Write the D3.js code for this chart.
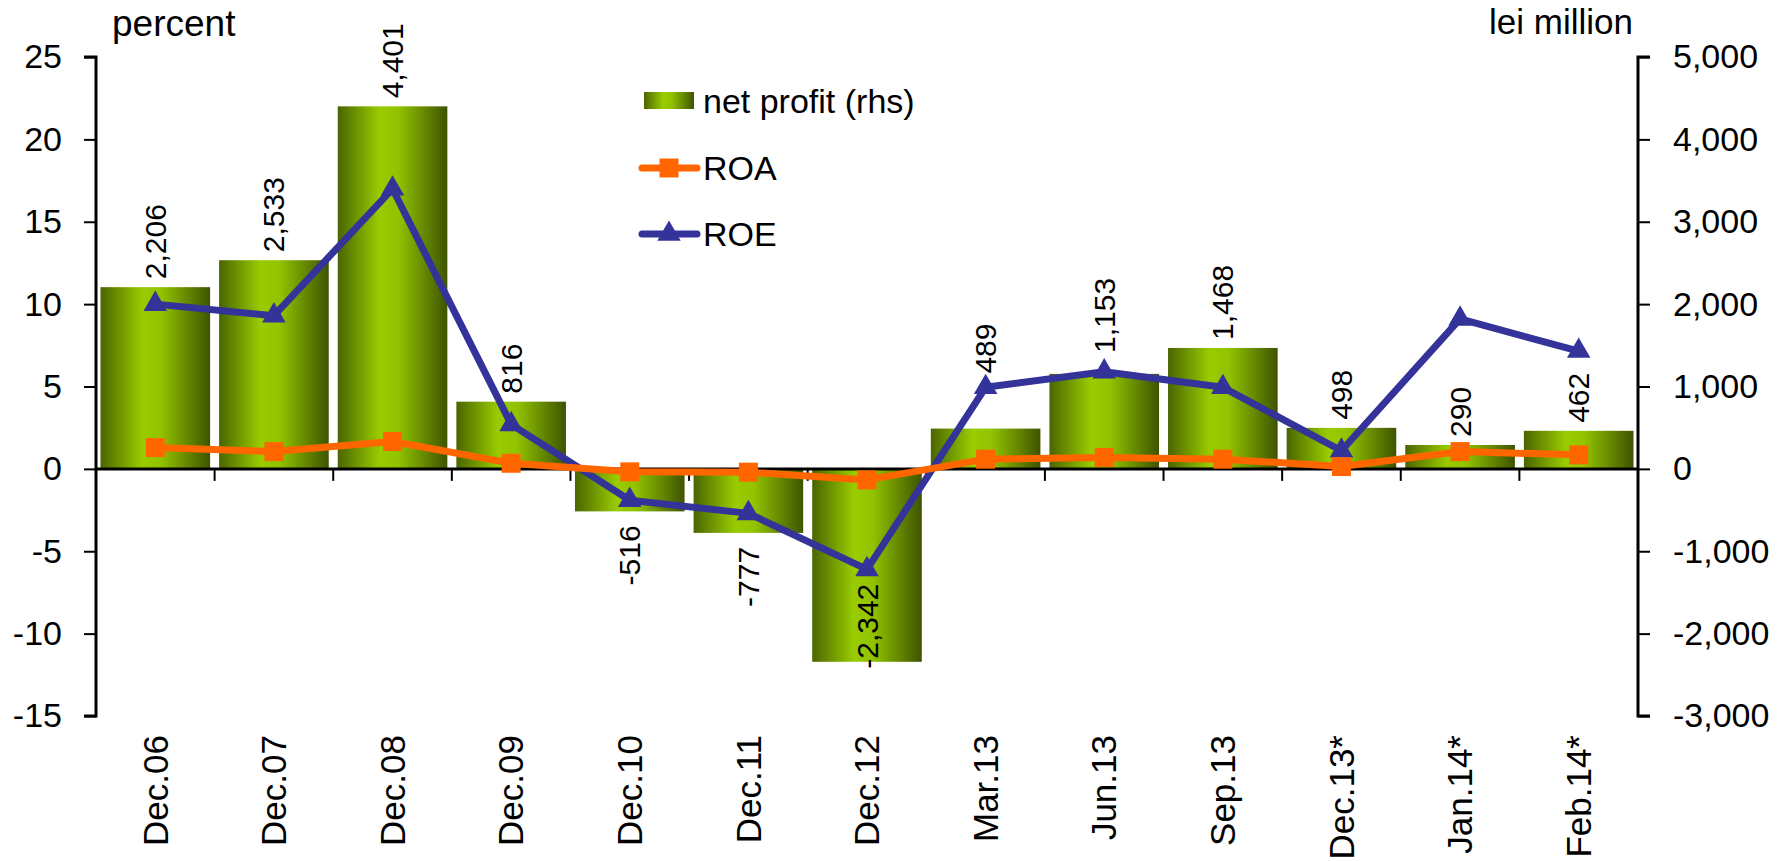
<!DOCTYPE html>
<html>
<head>
<meta charset="utf-8">
<script src="https://cdn.jsdelivr.net/npm/d3@7/dist/d3.min.js"></script>
<style>
  html, body { margin: 0; padding: 0; background: #fff; }
  svg { display: block; font-family: "Liberation Sans", Arial, sans-serif; }
</style>
</head>
<body>
<svg id="chart" width="1779" height="861"></svg>
<script>
// ---- data ----
const categories = ["Dec.06","Dec.07","Dec.08","Dec.09","Dec.10","Dec.11","Dec.12","Mar.13","Jun.13","Sep.13","Dec.13*","Jan.14*","Feb.14*"];
const netProfit = [2206, 2533, 4401, 816, -516, -777, -2342, 489, 1153, 1468, 498, 290, 462];
const roa = [1.29, 1.05, 1.66, 0.34, -0.18, -0.2, -0.67, 0.59, 0.69, 0.59, 0.14, 1.05, 0.85];
const roe = [10.0, 9.3, 17.0, 2.7, -1.9, -2.7, -6.1, 4.95, 5.9, 4.95, 1.1, 9.1, 7.15];
const leftTicks = [25, 20, 15, 10, 5, 0, -5, -10, -15];
const rightTicks = [5000, 4000, 3000, 2000, 1000, 0, -1000, -2000, -3000];
const seriesNames = ["net profit (rhs)", "ROA", "ROE"];
const leftTitle = "percent";
const rightTitle = "lei million";

// ---- layout (kept apart from the data) ----
const W = 1779, H = 861;
const plot = { left: 96, right: 1638, top: 57, bottom: 716 };
const labelLift = { "Mar.13": 47, "Jun.13": 13 };
const ROA_COLOR = "#ff6600", ROE_COLOR = "#333399";
const FS = 34, CAT_FS = 35, LABEL_FS = 30, LEG_FS = 34;

const svg = d3.select("#chart");
const hy = s => s.replace(/\u2212/g, "-");
const fmtComma = v => hy(d3.format(",")(v));
const fmtInt = v => hy(d3.format("d")(v));

const defs = svg.append("defs");
const grad = defs.append("linearGradient").attr("id", "barGrad")
  .attr("x1", 0).attr("x2", 1).attr("y1", 0).attr("y2", 0);
grad.append("stop").attr("offset", "0%").attr("stop-color", "#4a6500");
grad.append("stop").attr("offset", "38%").attr("stop-color", "#99cc00");
grad.append("stop").attr("offset", "55%").attr("stop-color", "#92c300");
grad.append("stop").attr("offset", "100%").attr("stop-color", "#3e5400");

const x = d3.scaleBand().domain(categories)
  .range([plot.left, plot.right]).paddingInner(0.076).paddingOuter(0.038);
const yL = d3.scaleLinear().domain([-15, 25]).range([plot.bottom, plot.top]);
const yR = d3.scaleLinear().domain([-3000, 5000]).range([plot.bottom, plot.top]);
const step = x.step();
const cx = c => x(c) + x.bandwidth() / 2;

// ---- bars ----
svg.append("g").selectAll("rect").data(categories).join("rect")
  .attr("x", c => x(c))
  .attr("width", x.bandwidth())
  .attr("y", (c, i) => yR(Math.max(0, netProfit[i])))
  .attr("height", (c, i) => Math.abs(yR(netProfit[i]) - yR(0)))
  .attr("fill", "url(#barGrad)");

// ---- zero line with category ticks (between categories) ----
const zeroY = yL(0);
const gx = svg.append("g");
gx.append("line").attr("x1", plot.left).attr("x2", plot.right)
  .attr("y1", zeroY).attr("y2", zeroY).attr("stroke", "#000").attr("stroke-width", 3);
gx.selectAll("line.tk").data(categories.slice(1)).join("line").attr("class", "tk")
  .attr("x1", c => x(c) - step * 0.076 / 2).attr("x2", c => x(c) - step * 0.076 / 2)
  .attr("y1", zeroY).attr("y2", zeroY + 12).attr("stroke", "#000").attr("stroke-width", 2);

// ---- category labels ----
svg.append("g").selectAll("text").data(categories).join("text")
  .attr("transform", c => `translate(${cx(c)},${plot.bottom + 19}) rotate(-90)`)
  .attr("text-anchor", "end").attr("dy", "0.35em")
  .attr("font-size", CAT_FS).text(c => c);

// ---- left axis ----
const axL = d3.axisLeft(yL).tickValues(leftTicks).tickSize(12).tickPadding(22).tickFormat(fmtInt);
const gL = svg.append("g").attr("transform", `translate(${plot.left},0)`).call(axL);
gL.select(".domain").attr("stroke-width", 3).attr("d", `M-12,${plot.top}H0V${plot.bottom}H-12`);
gL.selectAll(".tick line").attr("stroke-width", 2);
gL.selectAll(".tick text").attr("font-size", FS).attr("font-family", "Liberation Sans, Arial, sans-serif").attr("fill", "#000");

// ---- right axis ----
const axR = d3.axisRight(yR).tickValues(rightTicks).tickSize(12).tickPadding(23).tickFormat(fmtComma);
const gR = svg.append("g").attr("transform", `translate(${plot.right},0)`).call(axR);
gR.select(".domain").attr("stroke-width", 3).attr("d", `M12,${plot.top}H0V${plot.bottom}H12`);
gR.selectAll(".tick line").attr("stroke-width", 2);
gR.selectAll(".tick text").attr("font-size", FS).attr("font-family", "Liberation Sans, Arial, sans-serif").attr("fill", "#000");

// ---- axis titles ----
svg.append("text").attr("x", 112).attr("y", 36).attr("font-size", 37).text(leftTitle);
svg.append("text").attr("x", 1633).attr("y", 34).attr("text-anchor", "end").attr("font-size", 35).text(rightTitle);

// ---- data labels for net profit ----
svg.append("g").selectAll("text").data(categories).join("text")
  .attr("font-size", LABEL_FS)
  .each(function (c, i) {
    const v = netProfit[i];
    const sel = d3.select(this);
    const approxLen = fmtComma(v).length * LABEL_FS * 0.5;
    if (v >= 0) {
      const y0 = yR(v) - 8 - (labelLift[c] || 0);
      sel.attr("transform", `translate(${cx(c)},${y0}) rotate(-90)`).attr("text-anchor", "start");
    } else {
      const yb = yR(v);
      if (yb + 14 + approxLen > plot.bottom) {
        sel.attr("transform", `translate(${cx(c)},${yb + 7}) rotate(-90)`).attr("text-anchor", "start");
      } else {
        sel.attr("transform", `translate(${cx(c)},${yb + 14}) rotate(-90)`).attr("text-anchor", "end");
      }
    }
    sel.attr("dy", "0.35em").text(fmtComma(v));
  });

// ---- lines ----
const line = yScale => d3.line().x((d, i) => cx(categories[i])).y(d => yScale(d));
svg.append("path").datum(roe).attr("d", line(yL)).attr("fill", "none")
  .attr("stroke", ROE_COLOR).attr("stroke-width", 7).attr("stroke-linejoin", "round");
svg.append("g").selectAll("path").data(roe).join("path")
  .attr("d", d3.symbol(d3.symbolTriangle, 240))
  .attr("transform", (d, i) => `translate(${cx(categories[i])},${yL(d)})`)
  .attr("fill", ROE_COLOR);

svg.append("path").datum(roa).attr("d", line(yL)).attr("fill", "none")
  .attr("stroke", ROA_COLOR).attr("stroke-width", 7).attr("stroke-linejoin", "round");
svg.append("g").selectAll("path").data(roa).join("path")
  .attr("d", d3.symbol(d3.symbolSquare, 361))
  .attr("transform", (d, i) => `translate(${cx(categories[i])},${yL(d)})`)
  .attr("fill", ROA_COLOR);

// ---- legend ----
const lg = svg.append("g");
lg.append("rect").attr("x", 644).attr("y", 92).attr("width", 50).attr("height", 17).attr("fill", "url(#barGrad)");
lg.append("text").attr("x", 703).attr("y", 101).attr("dy", "0.35em").attr("font-size", LEG_FS).text(seriesNames[0]);
const legendLines = [
  { y: 168, color: ROA_COLOR, sym: d3.symbolSquare, size: 361, name: seriesNames[1] },
  { y: 234, color: ROE_COLOR, sym: d3.symbolTriangle, size: 240, name: seriesNames[2] }
];
legendLines.forEach(L => {
  lg.append("line").attr("x1", 642).attr("x2", 697).attr("y1", L.y).attr("y2", L.y)
    .attr("stroke", L.color).attr("stroke-width", 7).attr("stroke-linecap", "round");
  lg.append("path").attr("d", d3.symbol(L.sym, L.size)).attr("transform", `translate(669,${L.y})`).attr("fill", L.color);
  lg.append("text").attr("x", 703).attr("y", L.y).attr("dy", "0.35em").attr("font-size", LEG_FS).text(L.name);
});
</script>
</body>
</html>
